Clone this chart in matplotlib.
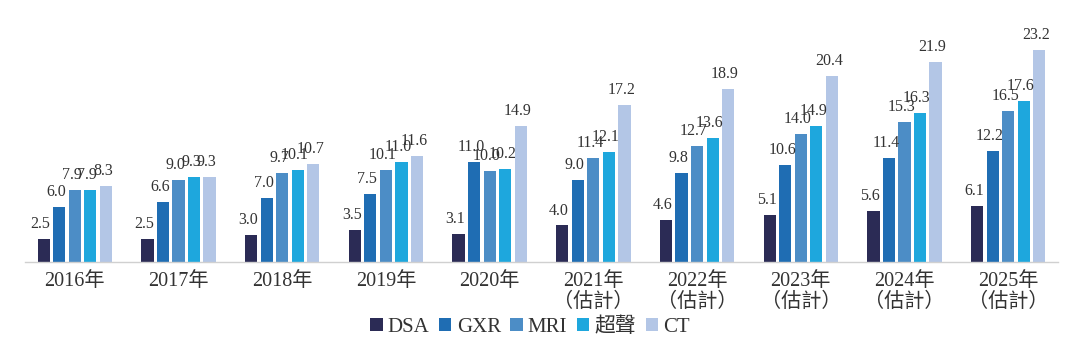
import matplotlib
matplotlib.use("Agg")
import matplotlib.pyplot as plt
import numpy as np

years = ["2016年", "2017年", "2018年", "2019年", "2020年",
         "2021年\n（估計）", "2022年\n（估計）", "2023年\n（估計）", "2024年\n（估計）", "2025年\n（估計）"]
series_names = ["DSA", "GXR", "MRI", "超聲", "CT"]
dsa = [2.5, 2.5, 3.0, 3.5, 3.1, 4.0, 4.6, 5.1, 5.6, 6.1]
gxr = [6.0, 6.6, 7.0, 7.5, 11.0, 9.0, 9.8, 10.6, 11.4, 12.2]
mri = [7.9, 9.0, 9.7, 10.1, 10.0, 11.4, 12.7, 14.0, 15.3, 16.5]
us = [7.9, 9.3, 10.1, 11.0, 10.2, 12.1, 13.6, 14.9, 16.3, 17.6]
ct = [8.3, 9.3, 10.7, 11.6, 14.9, 17.2, 18.9, 20.4, 21.9, 23.2]
series = [dsa, gxr, mri, us, ct]
colors = ["#2b2b55", "#1f6db3", "#4c8dc6", "#1ea7dd", "#b3c6e6"]

fam = ["Liberation Serif", "Noto Sans CJK TC"]
plt.rcParams["font.family"] = fam

fig = plt.figure(figsize=(10.8, 3.47), dpi=100)
ax = fig.add_axes([25/1080, 85/347, 1033/1080, 242/347])

x = np.arange(len(years))
step = 0.15
width = 0.118
for i, (vals, c, name) in enumerate(zip(series, colors, series_names)):
    pos = x + (i - 2) * step
    ax.bar(pos, vals, width=width, color=c, label=name)
    for p, v in zip(pos, vals):
        ax.annotate(f"{v:.1f}", (p - 0.03, v), xytext=(0, 5), textcoords="offset points",
                    ha="center", va="bottom", fontsize=11.5, color="#333333", family=fam)

ax.set_xlim(-0.48, 9.48)
ax.set_ylim(0, 26.5)
ax.set_yticks([])
ax.set_xticks(x)
ax.set_xticklabels(years, fontsize=14.5, color="#333333", linespacing=1.15)
ax.tick_params(axis="x", length=0, pad=7)
for s in ["top", "right", "left"]:
    ax.spines[s].set_visible(False)
ax.spines["bottom"].set_color("#d0d0d0")
ax.spines["bottom"].set_linewidth(1)

leg = fig.legend(loc="center", bbox_to_anchor=(530/1080, 1 - 327/347), ncol=5, frameon=False,
                 handlelength=0.6, handleheight=0.6, handletextpad=0.25, columnspacing=0.45,
                 prop={"family": fam, "size": 15})
for t in leg.get_texts():
    t.set_color("#333333")

fig.savefig("out.png", dpi=100)
